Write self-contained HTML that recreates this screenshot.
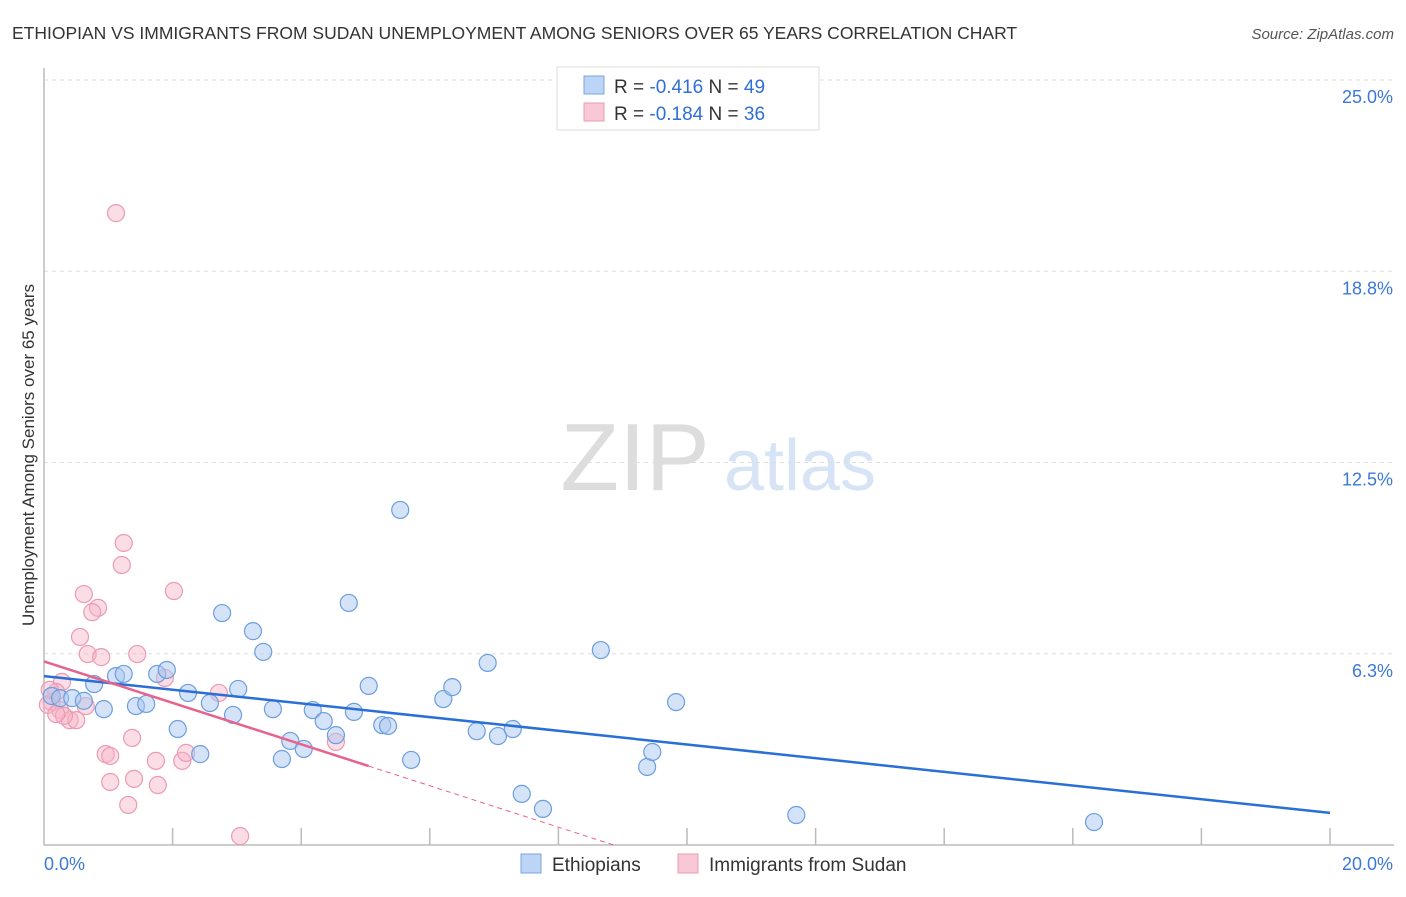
<!DOCTYPE html>
<html><head><meta charset="utf-8"><style>
body{margin:0;background:#fff;font-family:"Liberation Sans",sans-serif}
svg text{font-family:"Liberation Sans",sans-serif}
</style></head><body>
<svg id="c" width="1406" height="892">
<text x="12" y="39" font-size="17.5" fill="#333">ETHIOPIAN VS IMMIGRANTS FROM SUDAN UNEMPLOYMENT AMONG SENIORS OVER 65 YEARS CORRELATION CHART</text>
<text x="1394" y="39" font-size="15" fill="#555" font-style="italic" text-anchor="end">Source: ZipAtlas.com</text>
<text x="635" y="490" font-size="96" fill="#ddd" font-family="Liberation Serif" text-anchor="middle">ZIP</text>
<text x="800" y="490" font-size="72" fill="#d6e4f5" text-anchor="middle">atlas</text>
<text transform="translate(34,455) rotate(-90)" font-size="17" fill="#333" text-anchor="middle">Unemployment Among Seniors over 65 years</text>
<g id="grid"></g><g id="pts"></g><g id="lines"></g>
<g>
<rect x="557" y="67" width="262" height="63" fill="#fff" stroke="#ddd"/>
<rect x="584" y="76" width="20" height="18" fill="#bcd4f5" stroke="#7aa6e0"/>
<text x="614" y="93" font-size="19" fill="#333">R = <tspan fill="#2f6fd6">-0.416</tspan>   N = <tspan fill="#2f6fd6">49</tspan></text>
<rect x="584" y="103" width="20" height="18" fill="#f8c8d6" stroke="#eb98b0"/>
<text x="614" y="120" font-size="19" fill="#333">R = <tspan fill="#2f6fd6">-0.184</tspan>   N = <tspan fill="#2f6fd6">36</tspan></text>
</g>
<g>
<rect x="521" y="854" width="20" height="19" fill="#bcd4f5" stroke="#7aa6e0"/>
<text x="552" y="871" font-size="19" fill="#333">Ethiopians</text>
<rect x="678" y="854" width="20" height="19" fill="#f8c8d6" stroke="#eb98b0"/>
<text x="709" y="871" font-size="19" fill="#333">Immigrants from Sudan</text>
</g>
</svg>
<script>
const yTicks=[25,18.75,12.5,6.25];
const yTickLabels=["25.0%","18.8%","12.5%","6.3%"];
const xTickLabels=["0.0%","20.0%"];
const ethX=[0.12,0.25,0.44,0.62,0.78,0.93,1.12,1.24,1.43,1.59,1.76,1.91,2.08,2.24,2.43,2.58,2.77,2.94,3.02,3.25,3.41,3.56,3.70,3.83,4.04,4.18,4.35,4.54,4.74,4.82,5.05,5.26,5.35,5.54,5.71,6.21,6.35,6.73,6.90,7.06,7.29,7.43,7.76,8.66,9.38,9.46,9.83,11.70,16.33];
const ethY=[4.87,4.80,4.80,4.71,5.26,4.44,5.52,5.59,4.54,4.61,5.59,5.72,3.79,4.97,2.97,4.64,7.58,4.25,5.10,6.99,6.31,4.44,2.81,3.40,3.14,4.41,4.05,3.59,7.91,4.35,5.20,3.92,3.89,10.95,2.78,4.77,5.16,3.72,5.95,3.56,3.79,1.67,1.18,6.37,2.55,3.04,4.67,0.98,0.75];
const sudX=[1.12,1.24,1.21,2.02,0.62,0.84,0.75,0.56,0.68,0.89,1.45,1.88,2.72,0.28,0.19,0.12,0.25,0.40,0.50,0.31,0.65,0.06,0.96,1.03,1.37,1.74,2.15,2.21,1.03,1.40,1.77,1.31,3.05,4.54,0.19,0.09];
const sudY=[20.65,9.87,9.15,8.30,8.20,7.75,7.61,6.80,6.24,6.14,6.24,5.46,4.97,5.33,5.00,4.67,4.41,4.08,4.08,4.22,4.54,4.58,2.97,2.91,3.50,2.75,2.75,3.01,2.06,2.16,1.96,1.31,0.29,3.37,4.28,5.07];
const ethLine=[5.52,1.05];
const sudLine=[6.0,2.58,5.05];
const NS="http://www.w3.org/2000/svg";
const X=v=>44+v/20*1286, Y=v=>845-v*30.6;
function mk(t,a,p){const e=document.createElementNS(NS,t);for(const k in a)e.setAttribute(k,a[k]);p.appendChild(e);return e;}
const grid=document.getElementById('grid'),pts=document.getElementById('pts'),lines=document.getElementById('lines');
yTicks.forEach((v,i)=>{
 const l=mk('line',{x1:44,x2:1394,y1:Y(v),y2:Y(v),stroke:'#ddd','stroke-dasharray':'4,4'},grid);
 
 
 const t=mk('text',{x:1393,y:Y(v)+23,'font-size':18,fill:'#3b78d8','text-anchor':'end'},grid);t.textContent=yTickLabels[i];
 
 
});
const ax=mk('path',{d:'M44,68V845H1394',fill:'none',stroke:'#bbb','stroke-width':1.5},grid);


for(let i=1;i<=10;i++){const tk=mk('line',{x1:X(i*2),x2:X(i*2),y1:828,y2:845,stroke:'#bbb','stroke-width':1.5},grid);
 
 }
[0,20].forEach((v,i)=>{const t=mk('text',{x:i?1393:44,y:870,'font-size':18,fill:'#3b78d8','text-anchor':i?'end':'start'},grid);t.textContent=xTickLabels[i];
 
 });
sudX.forEach((x,i)=>{const c=mk('circle',{cx:X(x),cy:Y(sudY[i]),r:8.5,fill:'rgba(246,180,200,0.45)',stroke:'#ec9ab3','stroke-width':1.2},pts);
 
 });
ethX.forEach((x,i)=>{const c=mk('circle',{cx:X(x),cy:Y(ethY[i]),r:8.5,fill:'rgba(170,200,240,0.5)',stroke:'#6b9ee0','stroke-width':1.2},pts);
 
 });
const bl=mk('line',{x1:X(0),y1:Y(ethLine[0]),x2:X(20),y2:Y(ethLine[1]),stroke:'#2a6fd6','stroke-width':2.5},lines);


const sl=(sudLine[1]-sudLine[0])/sudLine[2], x0=-sudLine[0]/sl;
const pl=mk('line',{x1:X(0),y1:Y(sudLine[0]),x2:X(sudLine[2]),y2:Y(sudLine[1]),stroke:'#e8628e','stroke-width':2.5},lines);


const pd=mk('line',{x1:X(sudLine[2]),y1:Y(sudLine[1]),x2:X(x0),y2:Y(0),stroke:'#e8628e','stroke-width':1,'stroke-dasharray':'5,4'},lines);


</script>
</body></html>
